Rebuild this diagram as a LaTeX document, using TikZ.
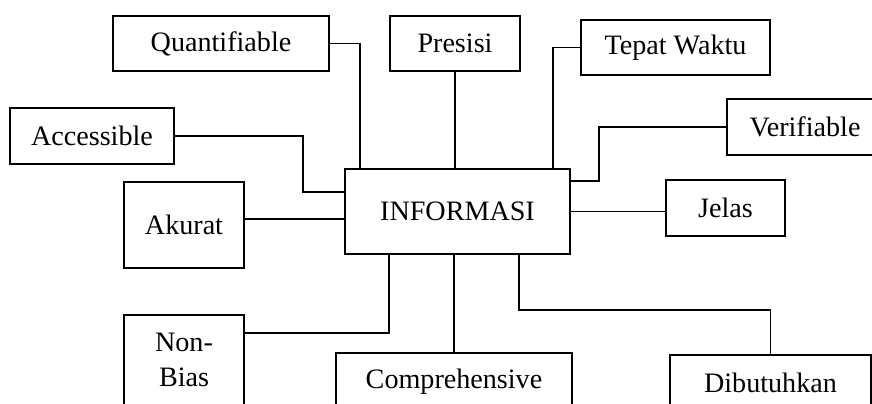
\documentclass[tikz,border=0pt]{standalone}
\usepackage{fontspec}
\setmainfont{Liberation Serif}
\usetikzlibrary{calc}
\tikzset{
	kotak/.style={draw, line width=1.3pt, inner sep=0pt, align=center, font=\fontsize{20}{25}\selectfont},
	garis/.style={line width=1.3pt}
}

\begin{document}
\begin{tikzpicture}[x=0.025cm, y=0.025cm]
			%%%%% START %%%%%
			
			\clip (0, 0) rectangle (872, -403);
			
			\node[kotak, minimum width=5.625cm, minimum height=2.125cm] (info) at (457.5, -211.5) {INFORMASI};
			
			\node[kotak, minimum width=5.4cm, minimum height=1.375cm] (quant) at (221, -43.5) {Quantifiable};
			\node[kotak, minimum width=3.25cm, minimum height=1.375cm] (pres) at (455, -43.5) {Presisi};
			\node[kotak, minimum width=4.725cm, minimum height=1.375cm] (tepat) at (675.5, -47.5) {Tepat Waktu};
			\node[kotak, minimum width=3.9cm, minimum height=1.4cm] (verif) at (805, -127) {Verifiable};
			\node[kotak, minimum width=4.1cm, minimum height=1.4cm] (access) at (92, -136) {Accessible};
			\node[kotak, minimum width=3cm, minimum height=2.15cm] (akurat) at (184, -225) {Akurat};
			\node[kotak, minimum width=2.975cm, minimum height=1.4cm] (jelas) at (725.5, -208) {Jelas};
			\node[kotak, minimum width=3cm, minimum height=2.25cm] (nonbias) at (184, -360) {Non-\\Bias};
			\node[kotak, minimum width=5.9cm, minimum height=1.45cm] (comp) at (454, -382) {Comprehensive};
			\node[kotak, minimum width=5.025cm, minimum height=1.4cm] (dibut) at (770.5, -383) {Dibutuhkan};
			
			\coordinate (qin) at ($(info.north west)+(16, 0)$);
			\coordinate (tin) at ($(info.north west)+(209, 0)$);
			\coordinate (vin) at ($(info.north east)+(0, -13)$);
			\coordinate (ain) at ($(info.north west)+(0, -24)$);
			\coordinate (kin) at ($(info.north west)+(0, -51)$);
			\coordinate (nin) at ($(info.south west)+(45, 0)$);
			\coordinate (din) at ($(info.south west)+(175, 0)$);
			\coordinate (nout) at ($(nonbias.north east)+(0, -19)$);
			
			\draw[garis] (quant.east) -| (qin);
			\draw[garis] (pres.south) -- (pres.south |- info.north);
			\draw[garis] (tepat.west) -| (tin);
			\draw[garis] (verif.west) -| ($(vin)+(28, 0)$) -- (vin);
			\draw[garis] (access.east) -| ($(ain)+(-41, 0)$) -- (ain);
			\draw[garis] (kin -| akurat.east) -- (kin);
			\draw[garis] (info.east) -- (info.east -| jelas.west);
			\draw[garis] (nout) -| (nin);
			\draw[garis] (comp.north) -- (comp.north |- info.south);
			\draw[garis] (dibut.north) -- ++(0, 44) -| (din);
			
			%%%%% END %%%%%
\end{tikzpicture}
\end{document}
